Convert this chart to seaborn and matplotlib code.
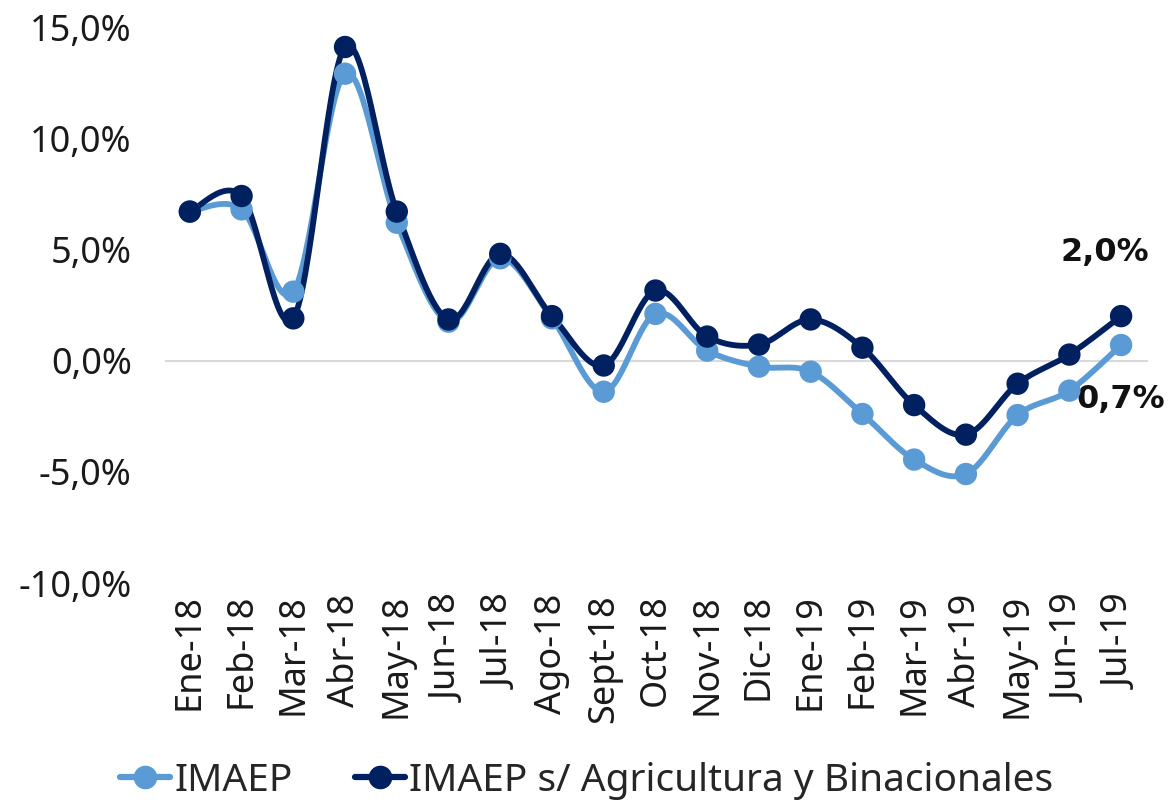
import numpy as np
import pandas as pd
import matplotlib
matplotlib.use("Agg")
import matplotlib.pyplot as plt
import seaborn as sns
from matplotlib.ticker import FuncFormatter
from matplotlib.lines import Line2D

months = ["Ene-18", "Feb-18", "Mar-18", "Abr-18", "May-18", "Jun-18", "Jul-18",
          "Ago-18", "Sept-18", "Oct-18", "Nov-18", "Dic-18", "Ene-19", "Feb-19",
          "Mar-19", "Abr-19", "May-19", "Jun-19", "Jul-19"]
imaep = [6.7, 6.8, 3.1, 12.9, 6.2, 1.75, 4.6, 1.9, -1.4, 2.1, 0.45, -0.27,
         -0.5, -2.4, -4.45, -5.1, -2.45, -1.35, 0.7]
imaep_sa = [6.7, 7.4, 1.9, 14.1, 6.7, 1.85, 4.8, 2.0, -0.22, 3.15, 1.08, 0.72,
            1.85, 0.58, -2.0, -3.33, -1.04, 0.27, 2.0]
series_names = ["IMAEP", "IMAEP s/ Agricultura y Binacionales"]
colors = ["#5B9BD5", "#002060"]

sns.set_theme(style="white")
plt.rcParams['font.family'] = ['Noto Sans', 'DejaVu Sans']

def smooth(xs, ys, n=30):
    # Excel-like smoothed line (cardinal Bezier) in data space
    xs = np.asarray(xs, float); ys = np.asarray(ys, float)
    px, py = [], []
    N = len(xs)
    for i in range(N - 1):
        p0 = np.array([xs[max(i-1, 0)], ys[max(i-1, 0)]])
        p1 = np.array([xs[i], ys[i]])
        p2 = np.array([xs[i+1], ys[i+1]])
        p3 = np.array([xs[min(i+2, N-1)], ys[min(i+2, N-1)]])
        c1 = p1 + (p2 - p0) / 6.0
        c2 = p2 - (p3 - p1) / 6.0
        t = np.linspace(0, 1, n, endpoint=(i == N - 2))
        b = ((1-t)**3)[:, None]*p1 + (3*(1-t)**2*t)[:, None]*c1 + (3*(1-t)*t**2)[:, None]*c2 + (t**3)[:, None]*p2
        px.extend(b[:, 0]); py.extend(b[:, 1])
    return np.array(px), np.array(py)

fig = plt.figure(figsize=(11.73, 8.08), dpi=100)
ax = fig.add_axes([165/1173, 1-583/808, (1148-165)/1173, (583-27)/808])

x = np.arange(len(months))
df = pd.DataFrame({"x": np.concatenate([x, x]),
                   "y": imaep + imaep_sa,
                   "serie": [series_names[0]]*len(x) + [series_names[1]]*len(x)})

for name, vals, col in zip(series_names, [imaep, imaep_sa], colors):
    sx, sy = smooth(x, vals)
    sns.lineplot(x=sx, y=sy, ax=ax, color=col, linewidth=4.2, sort=False, legend=False)
sns.scatterplot(data=df, x="x", y="y", hue="serie", palette=colors, s=260,
                edgecolor="none", ax=ax, legend=False, zorder=5)

ax.axhline(0, color="#D9D9D9", linewidth=1.5, zorder=0)
ax.set_ylim(-10, 15)
ax.set_xlim(-0.48, len(months) - 1 + 0.52)
ax.set_yticks([-10, -5, 0, 5, 10, 15])
ax.yaxis.set_major_formatter(FuncFormatter(lambda v, p: f"{v:.1f}%".replace(".", ",")))
ax.set_xticks(x)
ax.set_xticklabels(months, rotation=90)
ax.tick_params(axis="both", labelsize=26, colors="#1a1a1a", length=0)
ax.tick_params(axis="y", pad=24)
ax.tick_params(axis="x", pad=8)
for s in ax.spines.values():
    s.set_visible(False)
ax.set_xlabel(""); ax.set_ylabel("")

ax.annotate("2,0%", (x[-1], imaep_sa[-1]), xytext=(-12, 46), textcoords="offset points",
            ha="center", va="center", fontsize=23, fontweight="bold", color="#111111",
            family="DejaVu Sans")
ax.annotate("0,7%", (x[-1], imaep[-1]), xytext=(0, -39), textcoords="offset points",
            ha="center", va="center", fontsize=23, fontweight="bold", color="#111111",
            family="DejaVu Sans")

handles = [Line2D([0], [0], color=c, lw=4.5, marker="o", markersize=16) for c in colors]
fig.legend(handles, series_names, loc="center", bbox_to_anchor=(0.5, 1-781/808), ncol=2,
           frameon=False, fontsize=28, handlelength=1.3, handletextpad=0.1, columnspacing=1.6)

fig.savefig("out.png", dpi=100)
